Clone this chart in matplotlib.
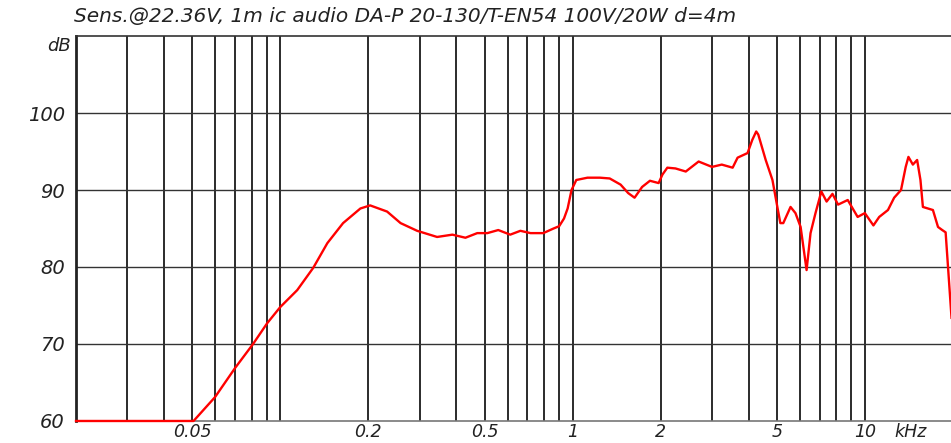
import numpy as np
import matplotlib
matplotlib.use('Agg')
import matplotlib.pyplot as plt

# frequency response (kHz, dB)
freq_khz = [0.02, 0.0505, 0.0598, 0.0701, 0.0807, 0.0902, 0.100, 0.1143, 0.1297,
            0.1449, 0.164, 0.188, 0.203, 0.232, 0.258, 0.294, 0.344, 0.388, 0.43,
            0.472, 0.511, 0.557, 0.612, 0.663, 0.718, 0.794, 0.861, 0.90, 0.935,
            0.962, 0.992, 1.03, 1.125, 1.24, 1.34, 1.46, 1.55, 1.63, 1.73, 1.84,
            1.97, 2.03, 2.11, 2.25, 2.44, 2.7, 3.0, 3.24, 3.53, 3.67, 3.97, 4.12,
            4.25, 4.32, 4.58, 4.83, 5.02, 5.14, 5.26, 5.57, 5.79, 6.03, 6.32, 6.52,
            6.78, 7.1, 7.4, 7.75, 8.1, 8.74, 9.45, 10.0, 10.7, 11.2, 12.0, 12.6,
            13.3, 13.8, 14.1, 14.6, 15.1, 15.5, 15.8, 17.1, 17.8, 18.4, 18.9, 19.8]
level_db = [60.0, 60.0, 63.1, 66.9, 70.0, 72.7, 74.8, 77.0, 79.9,
            83.1, 85.7, 87.6, 88.0, 87.2, 85.7, 84.7, 83.9, 84.2, 83.8,
            84.4, 84.4, 84.8, 84.2, 84.7, 84.4, 84.4, 85.0, 85.3, 86.3,
            87.6, 90.0, 91.3, 91.6, 91.6, 91.5, 90.7, 89.6, 89.0, 90.4, 91.2,
            90.9, 92.0, 92.9, 92.8, 92.4, 93.7, 93.0, 93.3, 92.9, 94.2, 94.8, 96.5,
            97.6, 97.2, 93.9, 91.3, 87.8, 85.7, 85.7, 87.8, 87.0, 85.2, 79.6, 84.4,
            87.0, 89.8, 88.5, 89.5, 88.1, 88.7, 86.5, 87.0, 85.4, 86.5, 87.4, 89.0,
            90.0, 93.0, 94.3, 93.3, 93.9, 91.3, 87.8, 87.4, 85.2, 84.8, 84.5, 73.4]

xtick_vals = [0.05, 0.2, 0.5, 1, 2, 5, 10]
xtick_labels = ['0.05', '0.2', '0.5', '1', '2', '5', '10']
ytick_vals = [60, 70, 80, 90, 100]
title = 'Sens.@22.36V, 1m ic audio DA-P 20-130/T-EN54 100V/20W d=4m'

grid_freqs = [m * 10.0 ** e for e in (-2, -1, 0) for m in range(1, 10)] + [10.0]
grid_freqs = [f for f in grid_freqs if 0.02 < f <= 10.0]

fig = plt.figure(figsize=(9.51, 4.43), dpi=100)
ax = fig.add_axes([0.0799, 0.0497, 0.922, 0.869])

ax.set_xscale('log')
ax.set_xlim(0.02, 20)
ax.set_ylim(60, 110)

# grid
for f in grid_freqs:
    ax.axvline(f, color='#1a1a1a', lw=1.3, zorder=1)
for v in [70, 80, 90, 100]:
    ax.axhline(v, color='#333333', lw=1.0, zorder=1)

ax.plot(freq_khz, level_db, color='#ff0000', lw=1.7, zorder=3, clip_on=False)

ax.spines['right'].set_visible(False)
ax.spines['left'].set_linewidth(2.0)
ax.spines['left'].set_color('#222222')
ax.spines['top'].set_linewidth(1.2)
ax.spines['top'].set_color('#333333')
ax.spines['bottom'].set_linewidth(1.2)
ax.spines['bottom'].set_color('#777777')

ax.minorticks_off()
ax.set_xticks(xtick_vals)
ax.set_xticklabels(xtick_labels)
ax.set_yticks(ytick_vals)
ax.set_yticklabels([str(v) for v in ytick_vals])
ax.tick_params(axis='x', length=0, labelsize=12.5, colors='#222222', pad=1.5)
ax.tick_params(axis='y', length=0, labelsize=14, colors='#222222', pad=8)
for lab in ax.get_xticklabels() + ax.get_yticklabels():
    lab.set_fontstyle('italic')

ax.annotate('kHz', xy=(12.6, 0), xycoords=('data', 'axes fraction'),
            xytext=(0, -1.5), textcoords='offset points', ha='left', va='top',
            fontsize=12.5, fontstyle='italic', color='#222222')
ax.text(-0.006, 0.975, 'dB', transform=ax.transAxes, ha='right', va='center',
        fontsize=13, fontstyle='italic', color='#222222')
fig.text(0.0775, 0.963, title, ha='left', va='center', fontsize=14.5,
         fontstyle='italic', color='#222222')

fig.savefig('out.png', dpi=100)
